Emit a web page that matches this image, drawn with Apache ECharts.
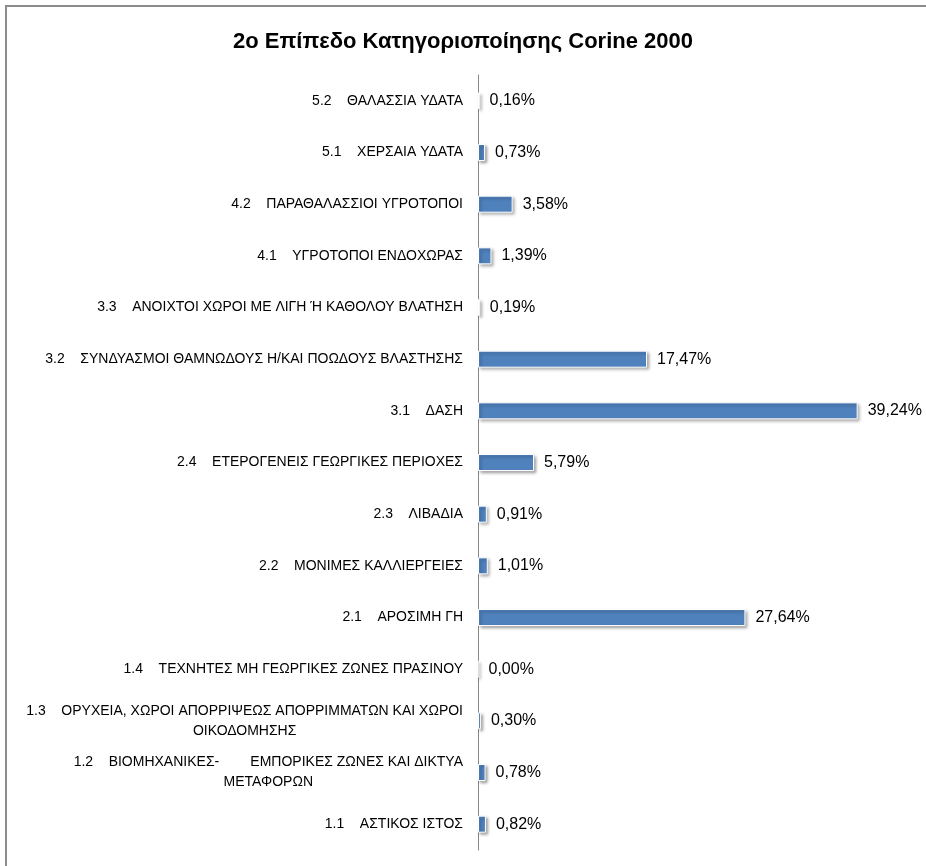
<!DOCTYPE html>
<html>
<head>
<meta charset="utf-8">
<script src="https://cdn.jsdelivr.net/npm/echarts@6/dist/echarts.min.js"></script>
<style>
  html, body { margin: 0; padding: 0; background: #fff; }
  #wrap { position: relative; width: 926px; height: 866px; }
  #main { width: 926px; height: 866px; }
  #frame {
    position: absolute; left: 5px; top: 5px; width: 921px; height: 861px;
    border-left: 2px solid #8c8c8c; border-top: 2px solid #8c8c8c;
    pointer-events: none;
  }
</style>
</head>
<body>
<div id="wrap">
  <div id="main"></div>
  <div id="frame"></div>
</div>
<script>
// κατηγορίες από κάτω προς τα πάνω
var categories = [
  '1.1    ΑΣΤΙΚΟΣ ΙΣΤΟΣ',
  '1.2    ΒΙΟΜΗΧΑΝΙΚΕΣ-        ΕΜΠΟΡΙΚΕΣ ΖΩΝΕΣ ΚΑΙ ΔΙΚΤΥΑ\nΜΕΤΑΦΟΡΩΝ',
  '1.3    ΟΡΥΧΕΙΑ, ΧΩΡΟΙ ΑΠΟΡΡΙΨΕΩΣ ΑΠΟΡΡΙΜΜΑΤΩΝ ΚΑΙ ΧΩΡΟΙ\nΟΙΚΟΔΟΜΗΣΗΣ',
  '1.4    ΤΕΧΝΗΤΕΣ ΜΗ ΓΕΩΡΓΙΚΕΣ ΖΩΝΕΣ ΠΡΑΣΙΝΟΥ',
  '2.1    ΑΡΟΣΙΜΗ ΓΗ',
  '2.2    ΜΟΝΙΜΕΣ ΚΑΛΛΙΕΡΓΕΙΕΣ',
  '2.3    ΛΙΒΑΔΙΑ',
  '2.4    ΕΤΕΡΟΓΕΝΕΙΣ ΓΕΩΡΓΙΚΕΣ ΠΕΡΙΟΧΕΣ',
  '3.1    ΔΑΣΗ',
  '3.2    ΣΥΝΔΥΑΣΜΟΙ ΘΑΜΝΩΔΟΥΣ Η/ΚΑΙ ΠΟΩΔΟΥΣ ΒΛΑΣΤΗΣΗΣ',
  '3.3    ΑΝΟΙΧΤΟΙ ΧΩΡΟΙ ΜΕ ΛΙΓΗ Ή ΚΑΘΟΛΟΥ ΒΛΑΤΗΣΗ',
  '4.1    ΥΓΡΟΤΟΠΟΙ ΕΝΔΟΧΩΡΑΣ',
  '4.2    ΠΑΡΑΘΑΛΑΣΣΙΟΙ ΥΓΡΟΤΟΠΟΙ',
  '5.1    ΧΕΡΣΑΙΑ ΥΔΑΤΑ',
  '5.2    ΘΑΛΑΣΣΙΑ ΥΔΑΤΑ'
];
var percents = [0.82, 0.78, 0.30, 0.00, 27.64, 1.01, 0.91, 5.79, 39.24, 17.47, 0.19, 1.39, 3.58, 0.73, 0.16];

var myChart = echarts.init(document.getElementById('main'));
var option = {
  animation: false,
  backgroundColor: '#fff',
  title: {
    text: '2ο Επίπεδο Κατηγοριοποίησης Corine 2000',
    left: 'center',
    top: 26,
    textStyle: { fontFamily: 'Liberation Sans', fontSize: 22, fontWeight: 'bold', color: '#000' }
  },
  grid: { left: 478, right: 61, top: 75, bottom: 16 },
  xAxis: {
    type: 'value',
    min: 0,
    max: 40,
    show: false
  },
  yAxis: {
    type: 'category',
    data: categories,
    axisLine: { lineStyle: { color: '#868686', width: 1 } },
    axisTick: { show: false },
    axisLabel: {
      margin: 15,
      formatter: function (v) {
        return v.split('\n').map(function (s) { return '{c|' + s + '}'; }).join('\n');
      },
      rich: {
        c: { align: 'center', fontFamily: 'Liberation Sans', fontSize: 14, color: '#000', lineHeight: 20 }
      }
    }
  },
  series: [{
    type: 'bar',
    data: percents,
    barWidth: 17,
    itemStyle: {
      color: '#4f81bd',
      borderColor: '#fff',
      borderWidth: 1,
      shadowColor: 'rgba(0,0,0,0.35)',
      shadowBlur: 3,
      shadowOffsetX: 2,
      shadowOffsetY: 2
    },
    label: {
      show: true,
      position: 'right',
      distance: 10,
      fontFamily: 'Liberation Sans',
      fontSize: 16,
      color: '#000',
      formatter: function (p) { return p.value.toFixed(2).replace('.', ',') + '%'; }
    }
  }]
};
myChart.setOption(option);
</script>
</body>
</html>
